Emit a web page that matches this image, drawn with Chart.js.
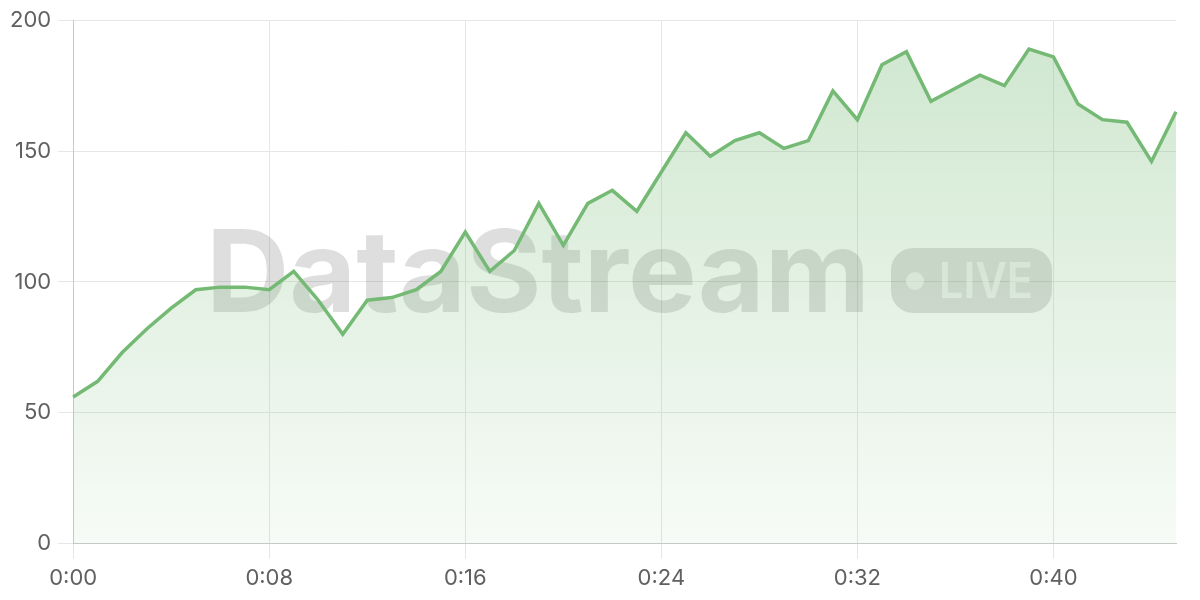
<!DOCTYPE html>
<html>
<head>
<meta charset="utf-8">
<style>
  html, body { margin: 0; padding: 0; background: #fff; }
  #wrap { width: 1200px; height: 600px; }
</style>
<script src="https://cdn.jsdelivr.net/npm/chart.js@4/dist/chart.umd.min.js"></script>
</head>
<body>
<div id="wrap"><canvas id="chart" width="1200" height="600"></canvas></div>
<script>
// one reading per minute, 0:00 .. 0:45
const minutes = Array.from({ length: 46 }, (_, i) => i);
const labels = minutes.map(m => '0:' + String(m).padStart(2, '0'));
const values = [
  56, 62, 73, 82, 90, 97, 98, 98, 97, 104,
  93, 80, 93, 94, 97, 104, 119, 104, 112, 130,
  114, 130, 135, 127, 142, 157, 148, 154, 157, 151,
  154, 173, 162, 183, 188, 169, 174, 179, 175, 189,
  186, 168, 162, 161, 146, 165
];
const yTicks = [0, 50, 100, 150, 200];

const lineColor = '#74b974';

// squeeze/stretch a word into a given width
function fitText(ctx, text, x, y, width) {
  const w0 = ctx.measureText(text).width;
  ctx.save();
  ctx.translate(x, y);
  ctx.scale(width / w0, 1);
  ctx.fillText(text, 0, 0);
  ctx.restore();
}

// watermark drawn under the line
const watermark = {
  id: 'watermark',
  beforeDatasetsDraw(chart) {
    const ctx = chart.ctx;
    ctx.save();
    ctx.fillStyle = 'rgba(0,0,0,0.13)';
    ctx.font = 'bold 114px Inter, "Noto Sans", sans-serif';
    ctx.textBaseline = 'alphabetic';
    ctx.textAlign = 'left';
    fitText(ctx, 'DataStream', 206, 312, 664);

    // LIVE pill
    ctx.beginPath();
    ctx.roundRect(891, 248, 161, 65, 22);
    ctx.fill();
    ctx.fillStyle = 'rgba(255,255,255,0.6)';
    ctx.beginPath();
    ctx.arc(915, 281, 9, 0, Math.PI * 2);
    ctx.fill();
    ctx.font = '600 49px Inter, "Noto Sans", sans-serif';
    fitText(ctx, 'LIVE', 939, 298, 94);
    ctx.restore();
  }
};

const ctx = document.getElementById('chart').getContext('2d');
new Chart(ctx, {
  type: 'line',
  data: {
    labels: labels,
    datasets: [{
      data: values,
      borderColor: lineColor,
      borderWidth: 3.5,
      pointRadius: 0,
      tension: 0,
      fill: 'origin',
      backgroundColor: (c) => {
        const area = c.chart.chartArea;
        if (!area) return 'rgba(116,185,116,0.2)';
        const g = c.chart.ctx.createLinearGradient(0, area.top, 0, area.bottom);
        g.addColorStop(0, 'rgba(116,185,116,0.35)');
        g.addColorStop(1, 'rgba(116,185,116,0.06)');
        return g;
      }
    }]
  },
  options: {
    responsive: false,
    animation: false,
    layout: { padding: { top: 9, right: 24, left: 3, bottom: 1 } },
    plugins: { legend: { display: false }, tooltip: { enabled: false } },
    scales: {
      x: {
        grid: { color: '#e6e6e6', tickLength: 15 },
        border: { color: '#c8c8c8' },
        ticks: {
          autoSkip: false,
          maxRotation: 0,
          color: '#606060',
          font: { family: 'Inter', size: 22 },
          padding: 7,
          callback: (v, i) => (i % 8 === 0 ? labels[i] : null)
        }
      },
      y: {
        min: 0,
        max: 200,
        afterBuildTicks: (axis) => { axis.ticks = yTicks.map(v => ({ value: v })); },
        grid: { color: '#e6e6e6', tickLength: 15 },
        border: { color: '#c8c8c8' },
        ticks: {
          color: '#606060',
          font: { family: 'Inter', size: 22 },
          padding: 7
        }
      }
    }
  },
  plugins: [watermark]
});
</script>
</body>
</html>
